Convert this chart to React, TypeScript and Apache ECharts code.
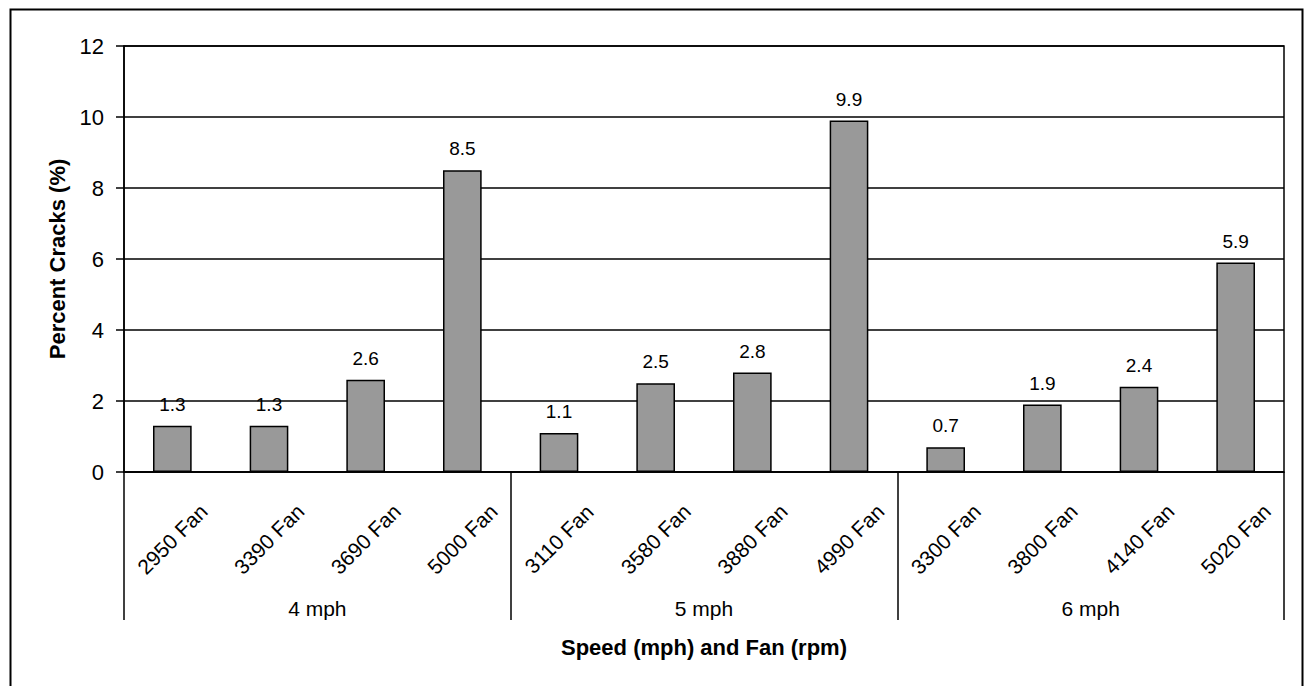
import React, { useEffect, useRef } from "react";
import * as echarts from "echarts";

const categories = [
  "2950 Fan", "3390 Fan", "3690 Fan", "5000 Fan",
  "3110 Fan", "3580 Fan", "3880 Fan", "4990 Fan",
  "3300 Fan", "3800 Fan", "4140 Fan", "5020 Fan",
];
const groups = ["4 mph", "5 mph", "6 mph"];
const percentCracks = [1.3, 1.3, 2.6, 8.5, 1.1, 2.5, 2.8, 9.9, 0.7, 1.9, 2.4, 5.9];
const yMin = 0;
const yMax = 12;
const yInterval = 2;

const FONT = "'Liberation Sans', Arial, sans-serif";

export default function App() {
  const ref = useRef<HTMLDivElement>(null);
  useEffect(() => {
    if (!ref.current) return;
    const chart = echarts.init(ref.current, undefined, { renderer: "svg" });
    chart.setOption({
      animation: false,
      textStyle: { fontFamily: FONT, color: "#000" },
      graphic: [
        {
          type: "rect",
          shape: { x: 10.5, y: 9.5, width: 1292, height: 700 },
          style: { fill: "none", stroke: "#000", lineWidth: 2 },
          silent: true,
        },
      ],
      grid: {
        left: 124,
        top: 46,
        right: 20,
        bottom: 214,
        show: true,
        borderColor: "#000",
        borderWidth: 1.5,
        backgroundColor: "transparent",
      },
      xAxis: [
        {
          type: "category",
          data: categories,
          position: "bottom",
          axisLine: { show: true, lineStyle: { color: "#000", width: 1.5 } },
          axisTick: { show: false },
          axisLabel: {
            rotate: 45,
            align: "center",
            verticalAlign: "middle",
            margin: 67,
            fontSize: 21,
            color: "#000",
            fontFamily: FONT,
            interval: 0,
          },
          name: "Speed (mph) and Fan (rpm)",
          nameLocation: "middle",
          nameGap: 164,
          nameTextStyle: {
            fontSize: 22,
            fontWeight: "bold",
            color: "#000",
            fontFamily: FONT,
            verticalAlign: "top",
          },
          splitLine: { show: false },
        },
        {
          type: "category",
          data: groups,
          position: "bottom",
          boundaryGap: true,
          axisLine: { show: false },
          axisTick: {
            show: true,
            length: 148,
            inside: false,
            lineStyle: { color: "#000", width: 1.5 },
          },
          axisLabel: {
            margin: 126,
            fontSize: 21,
            color: "#000",
            fontFamily: FONT,
            interval: 0,
          },
          splitLine: { show: false },
        },
      ],
      yAxis: {
        type: "value",
        min: yMin,
        max: yMax,
        interval: yInterval,
        axisLine: { show: true, lineStyle: { color: "#000", width: 1.5 } },
        axisTick: { show: true, length: 8, inside: false, lineStyle: { color: "#000", width: 1.5 } },
        axisLabel: { margin: 20, fontSize: 22, color: "#000", fontFamily: FONT },
        splitLine: { show: true, lineStyle: { color: "#000", width: 1.5 } },
        name: "Percent Cracks (%)",
        nameLocation: "middle",
        nameGap: 54,
        nameTextStyle: {
          fontSize: 22,
          fontWeight: "bold",
          color: "#000",
          fontFamily: FONT,
        },
      },
      series: [
        {
          type: "bar",
          xAxisIndex: 0,
          data: percentCracks,
          barWidth: "40%",
          itemStyle: { color: "#999999", borderColor: "#000", borderWidth: 1.5 },
          label: {
            show: true,
            position: "top",
            distance: 12,
            fontSize: 19,
            color: "#000",
            fontFamily: FONT,
            formatter: (p: any) => Number(p.value).toFixed(1),
          },
        },
      ],
    });
    return () => chart.dispose();
  }, []);
  return (
    <div
      ref={ref}
      style={{ position: "fixed", left: 0, top: 0, width: 1304, height: 686, background: "#fff" }}
    />
  );
}
